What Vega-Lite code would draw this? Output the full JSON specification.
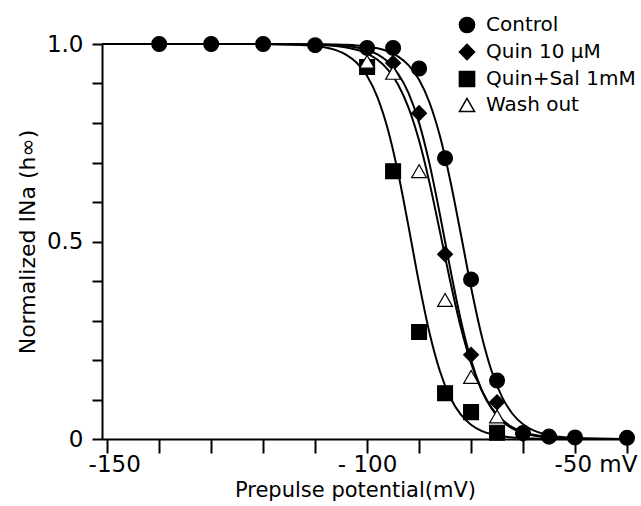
{
  "$schema": "https://vega.github.io/schema/vega-lite/v6.json",
  "autosize": {"type": "none"},
  "width": 525,
  "height": 395,
  "padding": {"left": 102, "top": 44, "right": 14, "bottom": 67},
  "background": "white",
  "config": {
    "view": {"stroke": null},
    "font": "DejaVu Sans",
    "axis": {
      "grid": false,
      "domainColor": "black",
      "domainWidth": 2,
      "tickColor": "black",
      "tickWidth": 2,
      "labelColor": "black",
      "titleColor": "black",
      "labelFont": "DejaVu Sans",
      "titleFont": "DejaVu Sans",
      "labelFontSize": 23,
      "titleFontSize": 21,
      "titleFontWeight": "normal",
      "labelOverlap": false,
      "labelBound": false
    },
    "legend": {
      "labelFont": "DejaVu Sans",
      "labelFontSize": 20,
      "labelColor": "black",
      "padding": 0
    }
  },
  "datasets": {
    "curves": [
      {"series": "Control", "V": -151, "h": 1.0},
      {"series": "Control", "V": -120, "h": 1.0},
      {"series": "Control", "V": -110, "h": 0.9996},
      {"series": "Control", "V": -106, "h": 0.9988},
      {"series": "Control", "V": -104, "h": 0.998},
      {"series": "Control", "V": -102, "h": 0.9965},
      {"series": "Control", "V": -100, "h": 0.9938},
      {"series": "Control", "V": -98, "h": 0.9893},
      {"series": "Control", "V": -96, "h": 0.9815},
      {"series": "Control", "V": -94, "h": 0.9682},
      {"series": "Control", "V": -92, "h": 0.9459},
      {"series": "Control", "V": -90, "h": 0.9093},
      {"series": "Control", "V": -88, "h": 0.8519},
      {"series": "Control", "V": -86, "h": 0.7675},
      {"series": "Control", "V": -84, "h": 0.6545},
      {"series": "Control", "V": -82, "h": 0.5208},
      {"series": "Control", "V": -80, "h": 0.3842},
      {"series": "Control", "V": -78, "h": 0.2635},
      {"series": "Control", "V": -76, "h": 0.1703},
      {"series": "Control", "V": -74, "h": 0.1054},
      {"series": "Control", "V": -72, "h": 0.0633},
      {"series": "Control", "V": -70, "h": 0.0373},
      {"series": "Control", "V": -68, "h": 0.0218},
      {"series": "Control", "V": -66, "h": 0.0126},
      {"series": "Control", "V": -64, "h": 0.0073},
      {"series": "Control", "V": -62, "h": 0.0042},
      {"series": "Control", "V": -60, "h": 0.0024},
      {"series": "Control", "V": -55, "h": 0.0006},
      {"series": "Control", "V": -50, "h": 0.0002},

      {"series": "Quin 10 μM", "V": -151, "h": 1.0},
      {"series": "Quin 10 μM", "V": -120, "h": 0.99994},
      {"series": "Quin 10 μM", "V": -110, "h": 0.999},
      {"series": "Quin 10 μM", "V": -106, "h": 0.9971},
      {"series": "Quin 10 μM", "V": -104, "h": 0.9949},
      {"series": "Quin 10 μM", "V": -102, "h": 0.9912},
      {"series": "Quin 10 μM", "V": -100, "h": 0.9847},
      {"series": "Quin 10 μM", "V": -98, "h": 0.9737},
      {"series": "Quin 10 μM", "V": -96, "h": 0.955},
      {"series": "Quin 10 μM", "V": -94, "h": 0.9241},
      {"series": "Quin 10 μM", "V": -92, "h": 0.8748},
      {"series": "Quin 10 μM", "V": -90, "h": 0.8004},
      {"series": "Quin 10 μM", "V": -88, "h": 0.6971},
      {"series": "Quin 10 μM", "V": -86, "h": 0.569},
      {"series": "Quin 10 μM", "V": -84, "h": 0.431},
      {"series": "Quin 10 μM", "V": -82, "h": 0.3029},
      {"series": "Quin 10 μM", "V": -80, "h": 0.1996},
      {"series": "Quin 10 μM", "V": -78, "h": 0.1252},
      {"series": "Quin 10 μM", "V": -76, "h": 0.0759},
      {"series": "Quin 10 μM", "V": -74, "h": 0.045},
      {"series": "Quin 10 μM", "V": -72, "h": 0.0263},
      {"series": "Quin 10 μM", "V": -70, "h": 0.0153},
      {"series": "Quin 10 μM", "V": -68, "h": 0.0088},
      {"series": "Quin 10 μM", "V": -66, "h": 0.0051},
      {"series": "Quin 10 μM", "V": -64, "h": 0.0029},
      {"series": "Quin 10 μM", "V": -62, "h": 0.0017},
      {"series": "Quin 10 μM", "V": -60, "h": 0.001},
      {"series": "Quin 10 μM", "V": -55, "h": 0.0002},
      {"series": "Quin 10 μM", "V": -50, "h": 0.0001},

      {"series": "Quin+Sal 1mM", "V": -151, "h": 1.0},
      {"series": "Quin+Sal 1mM", "V": -120, "h": 0.9997},
      {"series": "Quin+Sal 1mM", "V": -115, "h": 0.9988},
      {"series": "Quin+Sal 1mM", "V": -112, "h": 0.9971},
      {"series": "Quin+Sal 1mM", "V": -110, "h": 0.995},
      {"series": "Quin+Sal 1mM", "V": -108, "h": 0.9911},
      {"series": "Quin+Sal 1mM", "V": -106, "h": 0.9844},
      {"series": "Quin+Sal 1mM", "V": -104, "h": 0.9727},
      {"series": "Quin+Sal 1mM", "V": -102, "h": 0.9526},
      {"series": "Quin+Sal 1mM", "V": -100, "h": 0.919},
      {"series": "Quin+Sal 1mM", "V": -98, "h": 0.865},
      {"series": "Quin+Sal 1mM", "V": -96, "h": 0.7834},
      {"series": "Quin+Sal 1mM", "V": -94, "h": 0.6714},
      {"series": "Quin+Sal 1mM", "V": -92, "h": 0.5357},
      {"series": "Quin+Sal 1mM", "V": -90, "h": 0.3945},
      {"series": "Quin+Sal 1mM", "V": -88, "h": 0.2689},
      {"series": "Quin+Sal 1mM", "V": -86, "h": 0.1721},
      {"series": "Quin+Sal 1mM", "V": -84, "h": 0.105},
      {"series": "Quin+Sal 1mM", "V": -82, "h": 0.0622},
      {"series": "Quin+Sal 1mM", "V": -80, "h": 0.0361},
      {"series": "Quin+Sal 1mM", "V": -78, "h": 0.0207},
      {"series": "Quin+Sal 1mM", "V": -76, "h": 0.0118},
      {"series": "Quin+Sal 1mM", "V": -74, "h": 0.0067},
      {"series": "Quin+Sal 1mM", "V": -72, "h": 0.0038},
      {"series": "Quin+Sal 1mM", "V": -70, "h": 0.0021},
      {"series": "Quin+Sal 1mM", "V": -68, "h": 0.0012},
      {"series": "Quin+Sal 1mM", "V": -65, "h": 0.0005},
      {"series": "Quin+Sal 1mM", "V": -60, "h": 0.0001},
      {"series": "Quin+Sal 1mM", "V": -50, "h": 0.0},

      {"series": "Wash out", "V": -151, "h": 1.0},
      {"series": "Wash out", "V": -120, "h": 0.99985},
      {"series": "Wash out", "V": -110, "h": 0.9981},
      {"series": "Wash out", "V": -106, "h": 0.9947},
      {"series": "Wash out", "V": -104, "h": 0.9911},
      {"series": "Wash out", "V": -102, "h": 0.9853},
      {"series": "Wash out", "V": -100, "h": 0.9757},
      {"series": "Wash out", "V": -98, "h": 0.96},
      {"series": "Wash out", "V": -96, "h": 0.935},
      {"series": "Wash out", "V": -94, "h": 0.8961},
      {"series": "Wash out", "V": -92, "h": 0.8377},
      {"series": "Wash out", "V": -90, "h": 0.7555},
      {"series": "Wash out", "V": -88, "h": 0.6491},
      {"series": "Wash out", "V": -86, "h": 0.5256},
      {"series": "Wash out", "V": -84, "h": 0.3989},
      {"series": "Wash out", "V": -82, "h": 0.2843},
      {"series": "Wash out", "V": -80, "h": 0.1922},
      {"series": "Wash out", "V": -78, "h": 0.1247},
      {"series": "Wash out", "V": -76, "h": 0.0786},
      {"series": "Wash out", "V": -74, "h": 0.0486},
      {"series": "Wash out", "V": -72, "h": 0.0297},
      {"series": "Wash out", "V": -70, "h": 0.018},
      {"series": "Wash out", "V": -68, "h": 0.0108},
      {"series": "Wash out", "V": -66, "h": 0.0065},
      {"series": "Wash out", "V": -64, "h": 0.0039},
      {"series": "Wash out", "V": -62, "h": 0.0023},
      {"series": "Wash out", "V": -60, "h": 0.0014},
      {"series": "Wash out", "V": -55, "h": 0.0004},
      {"series": "Wash out", "V": -50, "h": 0.0001}
    ],
    "points": [
      {"series": "Control", "V": -140, "h": 1.0},
      {"series": "Control", "V": -130, "h": 1.0},
      {"series": "Control", "V": -120, "h": 1.0},
      {"series": "Control", "V": -110, "h": 0.997},
      {"series": "Control", "V": -100, "h": 0.99},
      {"series": "Control", "V": -95, "h": 0.99},
      {"series": "Control", "V": -90, "h": 0.938},
      {"series": "Control", "V": -85, "h": 0.711},
      {"series": "Control", "V": -80, "h": 0.404},
      {"series": "Control", "V": -75, "h": 0.148},
      {"series": "Control", "V": -70, "h": 0.015},
      {"series": "Control", "V": -65, "h": 0.006},
      {"series": "Control", "V": -60, "h": 0.004},
      {"series": "Control", "V": -50, "h": 0.003},
      {"series": "Quin 10 μM", "V": -95, "h": 0.952},
      {"series": "Quin 10 μM", "V": -90, "h": 0.825},
      {"series": "Quin 10 μM", "V": -85, "h": 0.468},
      {"series": "Quin 10 μM", "V": -80, "h": 0.213},
      {"series": "Quin 10 μM", "V": -75, "h": 0.093},
      {"series": "Quin 10 μM", "V": -70, "h": 0.012},
      {"series": "Quin+Sal 1mM", "V": -100, "h": 0.942},
      {"series": "Quin+Sal 1mM", "V": -95, "h": 0.678},
      {"series": "Quin+Sal 1mM", "V": -90, "h": 0.271},
      {"series": "Quin+Sal 1mM", "V": -85, "h": 0.116},
      {"series": "Quin+Sal 1mM", "V": -80, "h": 0.068},
      {"series": "Quin+Sal 1mM", "V": -75, "h": 0.016},
      {"series": "Wash out", "V": -100, "h": 0.955},
      {"series": "Wash out", "V": -95, "h": 0.927},
      {"series": "Wash out", "V": -90, "h": 0.678},
      {"series": "Wash out", "V": -85, "h": 0.352},
      {"series": "Wash out", "V": -80, "h": 0.157},
      {"series": "Wash out", "V": -75, "h": 0.057}
    ]
  },
  "layer": [
    {
      "data": {"name": "curves"},
      "mark": {"type": "line", "color": "black", "strokeWidth": 2, "interpolate": "monotone"},
      "encoding": {
        "x": {
          "field": "V", "type": "quantitative",
          "scale": {"domain": [-151, -50], "nice": false, "zero": false},
          "axis": {
            "title": "Prepulse potential(mV)",
            "values": [-150, -140, -130, -120, -110, -100, -90, -80, -70, -60, -50],
            "tickCount": 30,
            "labelExpr": "datum.value == -150 ? '-150' : datum.value == -100 ? '- 100' : datum.value == -50 ? '-50 mV' : ''",
            "tickSize": 14,
            "labelPadding": 0,
            "labelFlush": true,
            "labelFlushOffset": 10,
            "labelOffset": {"condition": {"test": "datum.value == -150", "value": 7}, "value": 0},
            "titlePadding": 3,
            "titleX": 253
          }
        },
        "y": {
          "field": "h", "type": "quantitative",
          "scale": {"domain": [0, 1], "nice": false},
          "axis": {
            "title": "Normalized INa (h∞)",
            "values": [0, 0.1, 0.2, 0.3, 0.4, 0.5, 0.6, 0.7, 0.8, 0.9, 1],
            "tickCount": 30,
            "labelExpr": "datum.value == 0 ? '0' : datum.value == 0.5 ? '0.5' : datum.value == 1 ? '1.0' : ''",
            "tickSize": 10,
            "labelPadding": 9,
            "titlePadding": 7,
            "titleFontSize": 22
          }
        },
        "detail": {"field": "series"}
      }
    },
    {
      "data": {"name": "points"},
      "mark": {"type": "point", "filled": true, "stroke": "black", "strokeWidth": 1.2, "opacity": 1, "size": 220},
      "encoding": {
        "x": {"field": "V", "type": "quantitative"},
        "y": {"field": "h", "type": "quantitative"},
        "shape": {
          "field": "series", "type": "nominal",
          "scale": {
            "domain": ["Control", "Quin 10 μM", "Quin+Sal 1mM", "Wash out"],
            "range": ["circle", "diamond", "square", "triangle-up"]
          },
          "legend": {
            "title": null,
            "orient": "none",
            "legendX": 355,
            "legendY": -29,
            "symbolSize": 230,
            "labelOffset": 9,
            "rowPadding": 5,
            "encode": {"symbols": {"update": {"stroke": {"value": "black"}, "strokeWidth": {"value": 1.2}, "size": {"value": 230}}}}
          }
        },
        "fill": {
          "field": "series", "type": "nominal",
          "scale": {
            "domain": ["Control", "Quin 10 μM", "Quin+Sal 1mM", "Wash out"],
            "range": ["black", "black", "black", "white"]
          },
          "legend": {
            "title": null,
            "orient": "none",
            "legendX": 355,
            "legendY": -29,
            "symbolSize": 230,
            "labelOffset": 9,
            "rowPadding": 5,
            "encode": {"symbols": {"update": {"stroke": {"value": "black"}, "strokeWidth": {"value": 1.2}, "size": {"value": 230}}}}
          }
        }
      }
    }
  ]
}
